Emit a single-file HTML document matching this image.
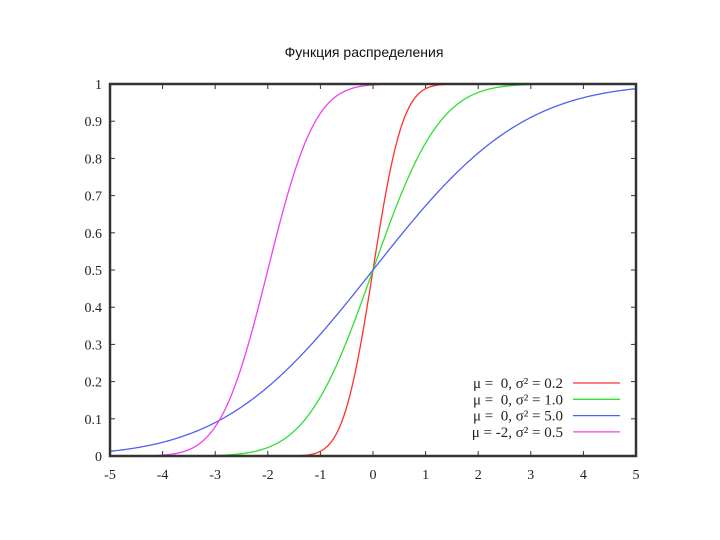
<!DOCTYPE html>
<html><head><meta charset="utf-8"><style>
body{margin:0;background:#fff;width:720px;height:540px;overflow:hidden}
svg{display:block}
.t{font-family:"Liberation Serif",serif;font-size:14px;fill:#222}
.lg{font-family:"Liberation Serif",serif;font-size:15px;fill:#222}
</style></head><body>
<svg id="c" width="720" height="540">
<text x="364" y="57" text-anchor="middle" font-family="Liberation Sans, sans-serif" font-size="14" fill="#111">Функция распределения</text>
</svg>
<script>
const means=[0,0,0,-2];
const variances=[0.2,1.0,5.0,0.5];
const colors=['#ff3030','#30e030','#5060f0','#f040f0'];
const legendLabels=['μ = \u00a00, σ² = 0.2','μ = \u00a00, σ² = 1.0','μ = \u00a00, σ² = 5.0','μ = -2, σ² = 0.5'];
const xTicks=[-5,-4,-3,-2,-1,0,1,2,3,4,5];
const yTicks=[0,0.1,0.2,0.3,0.4,0.5,0.6,0.7,0.8,0.9,1];
const yTickLabels=['0','0.1','0.2','0.3','0.4','0.5','0.6','0.7','0.8','0.9','1'];
const L=110,R=636,T=84,B=456;
const sx=v=>L+(v+5)/10*(R-L), sy=v=>B-v*(B-T);
const svg=document.getElementById('c'),NS='http://www.w3.org/2000/svg';
function mk(t,a,p){const e=document.createElementNS(NS,t);for(const k in a)e.setAttribute(k,a[k]);(p||svg).appendChild(e);return e;}
function erf(x){const s=x<0?-1:1;x=Math.abs(x);const t=1/(1+0.3275911*x);const y=1-(((((1.061405429*t-1.453152027)*t)+1.421413741)*t-0.284496736)*t+0.254829592)*t*Math.exp(-x*x);return s*y;}
xTicks.forEach(v=>{
 const t=mk('text',{x:sx(v),y:B+23,'text-anchor':'middle',class:'t'});t.textContent=v;
 
 mk('line',{x1:sx(v),x2:sx(v),y1:B,y2:B-5,stroke:'#333'});mk('line',{x1:sx(v),x2:sx(v),y1:T,y2:T+5,stroke:'#333'});
});
yTicks.forEach((v,i)=>{
 const t=mk('text',{x:L-8,y:sy(v)+5,'text-anchor':'end',class:'t'});t.textContent=yTickLabels[i];
 
 mk('line',{x1:L,x2:L+5,y1:sy(v),y2:sy(v),stroke:'#333'});mk('line',{x1:R,x2:R-5,y1:sy(v),y2:sy(v),stroke:'#333'});
});
means.forEach((m,i)=>{
 const s=Math.sqrt(variances[i]);let d='';
 for(let k=0;k<=500;k++){const x=-5+k/50;const y=0.5*(1+erf((x-m)/(s*Math.SQRT2)));d+=(k?'L':'M')+sx(x).toFixed(2)+','+sy(y).toFixed(2);}
 const p=mk('path',{d:d,fill:'none',stroke:colors[i],'stroke-width':1.3});
 
 const ly=383+i*16.3;
 const t=mk('text',{x:563,y:ly+5,'text-anchor':'end',class:'lg'});t.textContent=legendLabels[i];
 
 const l=mk('line',{x1:573,x2:620,y1:ly,y2:ly,stroke:colors[i],'stroke-width':1.3});
 
});
const f=mk('rect',{x:L,y:T,width:R-L,height:B-T,fill:'none',stroke:'#333','stroke-width':2.5});

</script>
</body></html>
